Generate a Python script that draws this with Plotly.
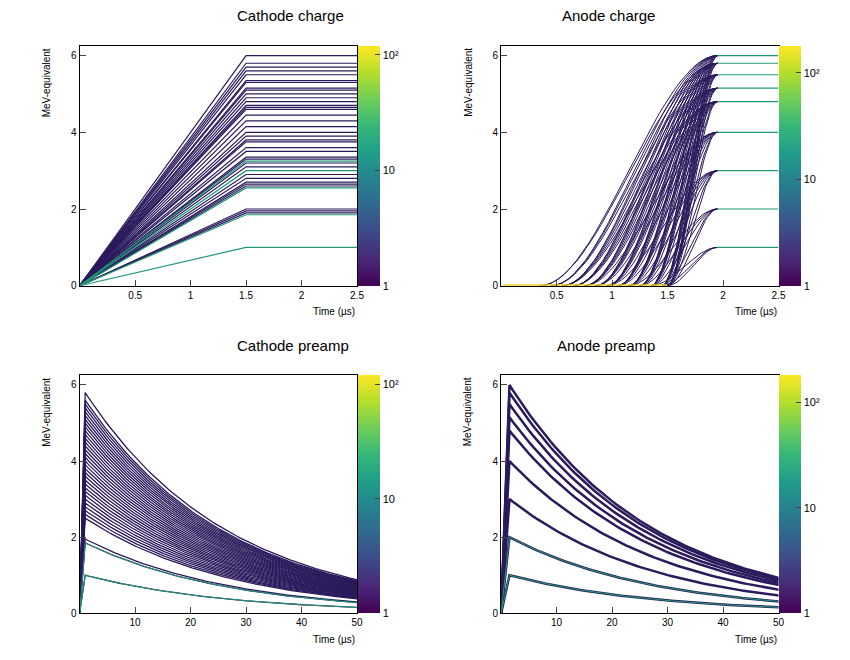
import numpy as np
import plotly.graph_objects as go

# values
cath_levels = [1.0, 1.85, 1.9, 1.95, 2.0, 2.55, 2.6, 2.65, 2.7, 2.8, 2.9, 3.0, 3.1, 3.2,
               3.25, 3.3, 3.35, 3.5, 3.6, 3.75, 3.8, 3.9, 4.0, 4.15, 4.3, 4.45, 4.6,
               4.65, 4.7, 4.8, 4.9, 5.0, 5.1, 5.15, 5.3, 5.35, 5.5, 5.6, 5.7, 5.8, 6.0]
cath_green = [1.0, 1.85, 2.55, 3.0, 3.25]
cath_t_end = 1.5
anode_levels = [1.0, 2.0, 3.0, 4.0, 4.8, 5.15, 5.5, 5.8, 6.0]
anode_starts = [0.35, 0.45, 0.55, 0.65, 0.75, 0.85, 0.95, 1.05, 1.15, 1.25, 1.35, 1.45, 1.5]
anode_t_end = 1.95
cath_pre_peaks = [1.0, 1.85, 1.95, 2.5, 2.6, 2.7, 2.8, 2.9, 3.0, 3.1, 3.2, 3.3, 3.4, 3.5,
                  3.6, 3.7, 3.8, 3.9, 4.0, 4.1, 4.2, 4.3, 4.4, 4.5, 4.6, 4.7, 4.8, 4.9,
                  5.0, 5.1, 5.2, 5.3, 5.4, 5.5, 5.6, 5.8]
anode_pre_peaks = [1.0, 2.0, 3.0, 4.0, 4.8, 5.15, 5.5, 5.8, 6.0]
decay_tau = 26.0
cb_max = [120, 180, 120, 180]
titles = ["Cathode charge", "Anode charge", "Cathode preamp", "Anode preamp"]

DARK = "#2b1a5c"
GREEN = "#1f9a77"
FONT = "Liberation Sans"

xd = [[0.085, 0.414], [0.585, 0.914]]
yd = [[0.576, 0.942], [0.076, 0.439]]

fig = go.Figure()


def add_lines(xs, ys, color, ax, width=1):
    fig.add_trace(go.Scatter(x=xs, y=ys, mode="lines", line=dict(color=color, width=width),
                             xaxis="x" + ax, yaxis="y" + ax, showlegend=False, hoverinfo="skip"))


def join(curves):
    xs, ys = [], []
    for cx, cy in curves:
        xs += list(cx) + [None]
        ys += list(cy) + [None]
    return xs, ys


# cathode charge
dark, green = [], []
for e in cath_levels:
    c = ([0, cath_t_end, 2.5], [0, e, e])
    (green if e in cath_green else dark).append(c)
add_lines(*join(dark), DARK, "", 1.2)
add_lines(*join(green), GREEN, "", 1.2)

# anode charge
dark, flat = [], []
for e in anode_levels:
    for t0 in anode_starts:
        if t0 < 1.5 - e * 0.2:
            continue
        t = np.linspace(t0, anode_t_end, 30)
        u = (t - t0) / (anode_t_end - t0)
        dark.append((t, e * u * u * (3 - 2 * u)))
    flat.append(([anode_t_end, 2.5], [e, e]))
add_lines(*join(dark), DARK, "2", 1)
add_lines(*join(flat), GREEN, "2", 1.2)
add_lines([0.02, 1.5], [0, 0], "#f0d020", "2", 3)

# preamps
t = np.linspace(1, 50, 80)
for ax, peaks, tpk in (("3", cath_pre_peaks, 1.0), ("4", anode_pre_peaks, 1.5)):
    curves = [([0, tpk] + list(t + tpk - 1), [0, p] + list(p * np.exp(-(t - 1) / decay_tau)))
              for p in peaks]
    add_lines(*join(curves), DARK, ax, 2.5 if ax == "4" else 1.3)
    add_lines(*join(curves[:2]), GREEN, ax, 1)

# colorbars
for i in range(4):
    r, c = divmod(i, 2)
    fig.add_trace(go.Scatter(
        x=[None], y=[None], mode="markers", showlegend=False,
        xaxis="x" + ("" if i == 0 else str(i + 1)), yaxis="y" + ("" if i == 0 else str(i + 1)),
        marker=dict(color=[0], cmin=0, cmax=np.log10(cb_max[i]), colorscale="Viridis",
                    colorbar=dict(x=xd[c][1] + 0.001, xanchor="left", y=yd[r][0], yanchor="bottom",
                                  len=yd[r][1] - yd[r][0], thickness=22, outlinewidth=0,
                                  xpad=0, ypad=0,
                                  tickvals=[0, 1, 2], ticktext=["1", "10", "10²"],
                                  tickfont=dict(size=11, family=FONT, color="black"),
                                  ticks="inside", ticklen=5))))

layout = dict(width=850, height=660, margin=dict(l=0, r=0, t=0, b=0),
              plot_bgcolor="white", paper_bgcolor="white",
              font=dict(family=FONT, size=11, color="black"))
ann = []
for i in range(4):
    r, c = divmod(i, 2)
    s = "" if i == 0 else str(i + 1)
    xr = [0, 2.5] if r == 0 else [0, 50]
    xt = [0.5, 1, 1.5, 2, 2.5] if r == 0 else [10, 20, 30, 40, 50]
    layout["xaxis" + s] = dict(domain=xd[c], anchor="y" + s, range=xr, tickvals=xt,
                               showgrid=False, zeroline=False, showline=True, linecolor="black",
                               mirror=True, ticks="inside", ticklen=6, tickfont=dict(size=10))
    layout["yaxis" + s] = dict(domain=yd[r], anchor="x" + s, range=[0, 6.25],
                               tickvals=[0, 2, 4, 6], showgrid=False, zeroline=False,
                               showline=True, linecolor="black", mirror=True, ticks="inside",
                               ticklen=6, tickfont=dict(size=10))
    ann.append(dict(text=titles[i], x=(xd[c][0] + xd[c][1]) / 2 + 0.02, y=yd[r][1] + 0.03,
                    xref="paper", yref="paper", showarrow=False, font=dict(size=15),
                    yanchor="bottom"))
    ann.append(dict(text="Time (µs)", x=xd[c][1], y=yd[r][0] - 0.028, xref="paper",
                    yref="paper", showarrow=False, xanchor="right", yanchor="top",
                    font=dict(size=10)))
    ann.append(dict(text="MeV-equivalent", x=xd[c][0] - 0.03, y=yd[r][1], xref="paper",
                    yref="paper", showarrow=False, textangle=-90, xanchor="right",
                    yanchor="top", font=dict(size=10)))
layout["annotations"] = ann
fig.update_layout(**layout)
fig.write_html("out.html")
